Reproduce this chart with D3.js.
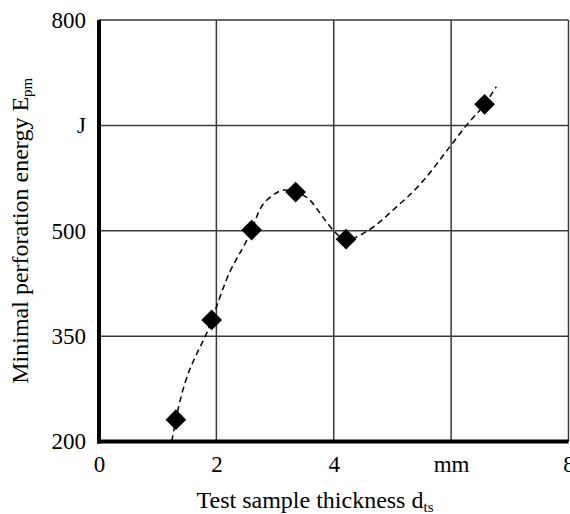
<!DOCTYPE html>
<html>
<head>
<meta charset="utf-8">
<script src="https://cdn.jsdelivr.net/npm/d3@7"></script>
<style>
  body { margin: 0; background: #fff; }
  text { font-family: "Liberation Serif", "Times New Roman", serif; fill: #000; }
</style>
</head>
<body>
<div id="chart"></div>
<script>
const width = 570;
const height = 514;
const margins = { top: 20, right: 1.5, bottom: 72.5, left: 99 };

// axis ticks
const xTicks = [0, 2, 4, 6, 8];
const xTickLabels = ["0", "2", "4", "mm", "8"];
const yTicks = [200, 350, 500, 650, 800];
const yTickLabels = ["200", "350", "500", "J", "800"];

// measured points
const thickness = [1.31, 1.92, 2.6, 3.35, 4.21, 6.57];
const energy = [231, 373, 501, 555, 488, 680];

// dashed trend line
const trendThickness = [1.24, 1.31, 1.92, 2.17, 2.6, 2.74, 2.97, 3.17, 3.35, 3.59, 3.81, 4.02, 4.21, 4.56, 5.07, 5.46, 6.0, 6.26, 6.57, 6.77];
const trendEnergy = [200, 231, 372, 430, 501, 530, 551, 558, 555, 544, 520, 498, 487, 499, 534, 565, 622, 650, 680, 705];

const points = thickness.map((d, i) => ({ x: d, y: energy[i] }));
const trend = trendThickness.map((d, i) => ({ x: d, y: trendEnergy[i] }));

const xScale = d3.scaleLinear().domain([0, 8]).range([margins.left, width - margins.right]);
const yScale = d3.scaleLinear().domain([200, 800]).range([height - margins.bottom, margins.top]);

const svg = d3
  .select("#chart")
  .append("svg")
  .attr("width", width)
  .attr("height", height);

// GRID
const grid = svg.append("g").attr("class", "grid");
grid
  .selectAll("line.vgrid")
  .data(xTicks.slice(1))
  .enter()
  .append("line")
  .attr("class", "vgrid")
  .attr("x1", (d) => xScale(d))
  .attr("x2", (d) => xScale(d))
  .attr("y1", yScale(800))
  .attr("y2", yScale(200))
  .attr("stroke", "#3a3a3a")
  .attr("stroke-width", 1.5);
grid
  .selectAll("line.hgrid")
  .data(yTicks.slice(1))
  .enter()
  .append("line")
  .attr("class", "hgrid")
  .attr("x1", xScale(0))
  .attr("x2", xScale(8))
  .attr("y1", (d) => yScale(d))
  .attr("y2", (d) => yScale(d))
  .attr("stroke", "#3a3a3a")
  .attr("stroke-width", 1.5);

// AXES
const xAxis = d3
  .axisBottom(xScale)
  .tickValues(xTicks)
  .tickFormat((d, i) => xTickLabels[i])
  .tickSize(0)
  .tickSizeOuter(0)
  .tickPadding(14);
const yAxis = d3
  .axisLeft(yScale)
  .tickValues(yTicks)
  .tickFormat((d, i) => yTickLabels[i])
  .tickSize(0)
  .tickSizeOuter(0)
  .tickPadding(13);

const gx = svg
  .append("g")
  .attr("class", "x-axis")
  .attr("transform", `translate(0,${height - margins.bottom})`)
  .call(xAxis);
const gy = svg
  .append("g")
  .attr("class", "y-axis")
  .attr("transform", `translate(${margins.left},0)`)
  .call(yAxis);

[gx, gy].forEach((g) => {
  g.select(".domain").attr("stroke", "#000").attr("stroke-width", 4);
  g.selectAll("text")
    .style("font-family", '"Liberation Serif", "Times New Roman", serif')
    .style("font-size", "23px")
    .attr("fill", "#000");
});
gx.select(".domain").attr("d", `M${xScale(0) - 2},0H${xScale(8)}`);
gy.select(".domain").attr("d", `M0,${yScale(200) + 2}V${yScale(800)}`);

// TREND LINE
const lineGenerator = d3
  .line()
  .x((d) => xScale(d.x))
  .y((d) => yScale(d.y))
  .curve(d3.curveMonotoneX);

svg
  .append("path")
  .attr("d", lineGenerator(trend))
  .attr("fill", "none")
  .attr("stroke", "#000")
  .attr("stroke-width", 1.5)
  .attr("stroke-dasharray", "6,4");

// MARKERS
const diamond = d3.symbol(d3.symbolSquare, 215);
svg
  .selectAll("path.marker")
  .data(points)
  .enter()
  .append("path")
  .attr("class", "marker")
  .attr("d", diamond)
  .attr("transform", (d) => `translate(${xScale(d.x)},${yScale(d.y)}) rotate(45)`)
  .attr("fill", "#000");

// LABELS
const xLabel = svg
  .append("text")
  .attr("x", 315)
  .attr("y", 508)
  .attr("text-anchor", "middle")
  .style("font-size", "24px");
xLabel.append("tspan").text("Test sample thickness d");
xLabel.append("tspan").text("ts").attr("dy", 4).style("font-size", "15px");

const yLabel = svg
  .append("text")
  .attr("transform", `translate(28,${(yScale(200) + yScale(800)) / 2}) rotate(-90)`)
  .attr("text-anchor", "middle")
  .style("font-size", "24px");
yLabel.append("tspan").text("Minimal perforation energy E");
yLabel.append("tspan").text("pm").attr("dy", 4).style("font-size", "15px");
</script>
</body>
</html>
